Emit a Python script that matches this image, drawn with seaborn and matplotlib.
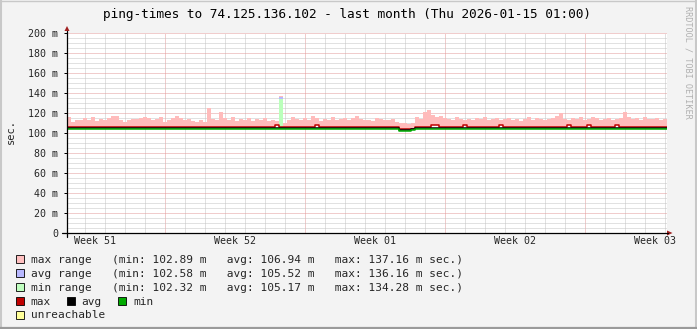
import numpy as np
import pandas as pd
import matplotlib
matplotlib.use("Agg")
import matplotlib.pyplot as plt
import seaborn as sns
from matplotlib.lines import Line2D
from matplotlib.patches import Rectangle, Polygon

# ---------------- data ----------------
title = "ping-times to 74.125.136.102 - last month (Thu 2026-01-15 01:00)"
y_label = "sec."
watermark = "RRDTOOL / TOBI OETIKER"
week_labels = ["Week 51", "Week 52", "Week 01", "Week 02", "Week 03"]
week_centers = [1.4, 8.4, 15.4, 22.4, 29.4]      # days since start of graph
week_starts = [4.9, 11.9, 18.9, 25.9]             # Monday 00:00
day_starts = [0.9 + d for d in range(30)]
y_ticks = [0, 20, 40, 60, 80, 100, 120, 140, 160, 180, 200]
y_tick_labels = ["0", "20 m", "40 m", "60 m", "80 m", "100 m", "120 m",
                 "140 m", "160 m", "180 m", "200 m"]
step_days = 0.2   # one sample every 4.8 h

# top of the "max range" band (ms), one value per sample
max_top = [116, 111, 113, 113, 115, 113, 116, 112, 114, 113,
           115, 117, 117, 113, 111, 113, 114, 114, 115, 116,
           115, 113, 114, 116, 111, 113, 115, 117, 115, 113,
           114, 112, 111, 113, 111, 125, 114, 113, 121, 115,
           113, 116, 112, 114, 113, 115, 112, 114, 113, 115,
           112, 113, 112, 137.16, 110, 113, 116, 114, 113, 115,
           113, 117, 115, 112, 114, 113, 116, 113, 114, 115,
           113, 115, 117, 114, 113, 113, 112, 115, 114, 113,
           113, 114, 111, 110, 110, 109, 110, 116, 114, 121,
           123, 118, 116, 117, 115, 114, 113, 116, 114, 113,
           114, 113, 115, 114, 116, 113, 114, 115, 113, 114,
           115, 113, 114, 112, 114, 116, 113, 115, 114, 113,
           114, 115, 117, 120, 114, 113, 115, 114, 116, 113,
           114, 116, 115, 113, 114, 115, 113, 114, 115, 121,
           116, 114, 115, 113, 116, 114, 114, 115, 113, 114]

# typical levels of the three lines (ms)
max_level = 106.5
avg_level = 105.3
min_level = 104.3
# samples where the max line bumps up
max_bump_idx = [52, 62, 91, 92, 99, 108, 125, 130, 137]
max_bump_level = 108.2
# dip (lower latency) samples
dip_idx = [83, 84, 85, 86]
dip_max = [103.6, 103.6, 103.6, 104.2]
dip_avg = [103.0, 103.0, 103.0, 103.6]
dip_min = [102.4, 102.4, 102.4, 103.0]
# single spike sample
spike_idx = 53
spike_min_top = 134.28
spike_avg_top = 136.16
spike_max_top = 137.16

legend_rows = [
    ("max range", "#FFC0C0", "(min: 102.89 m   avg: 106.94 m   max: 137.16 m sec.)"),
    ("avg range", "#B8B8FF", "(min: 102.58 m   avg: 105.52 m   max: 136.16 m sec.)"),
    ("min range", "#C0FFC0", "(min: 102.32 m   avg: 105.17 m   max: 134.28 m sec.)"),
]
line_items = [("max", "#C00000"), ("avg", "#000000"), ("min", "#00AA00")]
unreach_item = ("unreachable", "#FFFF99")

# ---------------- build series ----------------
n = len(max_top)
t = np.arange(n + 1) * step_days
max_line = np.full(n, max_level)
avg_line = np.full(n, avg_level)
min_line = np.full(n, min_level)
max_line[max_bump_idx] = max_bump_level
for i, k in enumerate(dip_idx):
    max_line[k] = dip_max[i]
    avg_line[k] = dip_avg[i]
    min_line[k] = dip_min[i]

def ext(a):
    a = np.asarray(a, dtype=float)
    return np.append(a, a[-1])

df = pd.DataFrame({
    "t": np.concatenate([t, t, t]),
    "v": np.concatenate([ext(max_line), ext(avg_line), ext(min_line)]),
    "s": ["max"] * (n + 1) + ["avg"] * (n + 1) + ["min"] * (n + 1),
})

# ---------------- figure ----------------
W, H = 697, 329
sns.set_style("white")
plt.rcParams['font.family'] = ['DejaVu Sans Mono', 'DejaVu Sans']

fig = plt.figure(figsize=(W / 100, H / 100), dpi=100)
fig.patch.set_facecolor("#F3F3F3")

def fx(px):
    return px / W

def fy(py):
    return 1 - py / H

ax = fig.add_axes([fx(67), fy(233), 600 / W, 200 / H])
ax.set_facecolor("white")
ax.set_xlim(0, 30)
ax.set_ylim(0, 200)
for s in ax.spines.values():
    s.set_visible(False)

dot = (0, (1, 1))
minor_c = "#C4C4C4"
major_c = "#E39A9A"
for d in day_starts:
    if d < 30 and not any(abs(d - w) < 1e-6 for w in week_starts):
        ax.axvline(d, color=minor_c, lw=0.72, ls=dot, zorder=1)
for w in week_starts:
    ax.axvline(w, color=major_c, lw=0.72, ls=dot, zorder=1)
for yv in range(5, 201, 5):
    if yv % 20:
        ax.axhline(yv, color=minor_c, lw=0.72, ls=dot, zorder=1)
for yv in y_ticks[1:]:
    ax.axhline(yv, color=major_c, lw=0.72, ls=dot, zorder=1)

# max range area
ax.fill_between(t, ext(max_line), ext(max_top), step="post",
                color="#FFBBBB", lw=0, zorder=2)
# spike ranges
ts = t[spike_idx:spike_idx + 2]
ax.fill_between(ts, [min_line[spike_idx]] * 2, [spike_min_top] * 2,
                color="#BBFFBB", lw=0, zorder=2.1)
ax.fill_between(ts, [spike_min_top] * 2, [spike_avg_top] * 2,
                color="#B8B8FF", lw=0, zorder=2.1)
ax.fill_between(ts, [spike_avg_top] * 2, [spike_max_top] * 2,
                color="#FFBBBB", lw=0, zorder=2.1)

palette = {"max": "#C00000", "avg": "#000000", "min": "#00AA00"}
sns.lineplot(data=df, x="t", y="v", hue="s", palette=palette,
             hue_order=["max", "avg", "min"],
             drawstyle="steps-post", lw=1.1, ax=ax, legend=False,
             estimator=None, sort=False, zorder=3)

ax.set_xlabel("")
ax.set_ylabel("")
ax.set_yticks(y_ticks)
ax.set_yticklabels(y_tick_labels, fontsize=7.2)
ax.set_xticks(week_centers)
ax.set_xticklabels(week_labels, fontsize=7.2)
ax.tick_params(axis="y", length=2.5, width=0.72, color="black", pad=4,
               left=True)
ax.tick_params(axis="x", length=0, pad=2.5, bottom=True)
ax.grid(False)

# axis lines and arrows
fig.add_artist(Line2D([fx(62), fx(668)], [fy(233), fy(233)],
                      color="black", lw=0.9))
fig.add_artist(Line2D([fx(67), fx(67)], [fy(237), fy(31)],
                      color="black", lw=0.9))
arrow_c = "#A02020"
fig.add_artist(Polygon([[fx(667), fy(230.5)], [fx(672.5), fy(233)],
                        [fx(667), fy(235.5)]], closed=True,
                       color=arrow_c, lw=0))
fig.add_artist(Polygon([[fx(64.5), fy(31)], [fx(67), fy(26)],
                        [fx(69.5), fy(31)]], closed=True,
                       color=arrow_c, lw=0))

# title, y label, watermark
fig.text(fx(347), fy(18), title, ha="center", va="baseline",
         fontsize=9.2, color="#000000")
fig.text(fx(11), fy(132), y_label, rotation=90, ha="center", va="center",
         fontsize=7.5)
fig.text(fx(688), fy(6), watermark, rotation=-90, ha="center", va="top",
         fontsize=6.1, color="#B0B0B0")

# legend
fs_leg = 8
base = [262.7, 276.7, 290.7, 304.6, 318.5]
for i, (name, col, stats) in enumerate(legend_rows):
    b = base[i]
    fig.add_artist(Rectangle((fx(16), fy(b)), 7.5 / W, 7.5 / H,
                             facecolor=col, edgecolor="black", lw=0.6))
    fig.text(fx(30.7), fy(b), f"{name:<9}   {stats}", ha="left",
             va="baseline", fontsize=fs_leg)
xs_box = [16, 67, 118.3]
for j, (name, col) in enumerate(line_items):
    b = base[3]
    fig.add_artist(Rectangle((fx(xs_box[j]), fy(b)), 7.5 / W, 7.5 / H,
                             facecolor=col, edgecolor="black", lw=0.6))
    fig.text(fx(xs_box[j] + 14.7), fy(b), name, ha="left", va="baseline",
             fontsize=fs_leg)
b = base[4]
fig.add_artist(Rectangle((fx(16), fy(b)), 7.5 / W, 7.5 / H,
                         facecolor=unreach_item[1], edgecolor="black", lw=0.6))
fig.text(fx(30.7), fy(b), unreach_item[0], ha="left", va="baseline",
         fontsize=fs_leg)

# image frame
fig.add_artist(Line2D([fx(0.5), fx(0.5)], [fy(0), fy(329)], color="#C8C8C8", lw=1.5))
fig.add_artist(Line2D([fx(0), fx(697)], [fy(0.5), fy(0.5)], color="#C8C8C8", lw=1.0))
fig.add_artist(Line2D([fx(696), fx(696)], [fy(0), fy(329)], color="#C8C8C8", lw=1.5))
fig.add_artist(Line2D([fx(0), fx(697)], [fy(328), fy(328)], color="#9A9A9A", lw=1.6))

fig.savefig("out.png", dpi=100, facecolor=fig.get_facecolor())
